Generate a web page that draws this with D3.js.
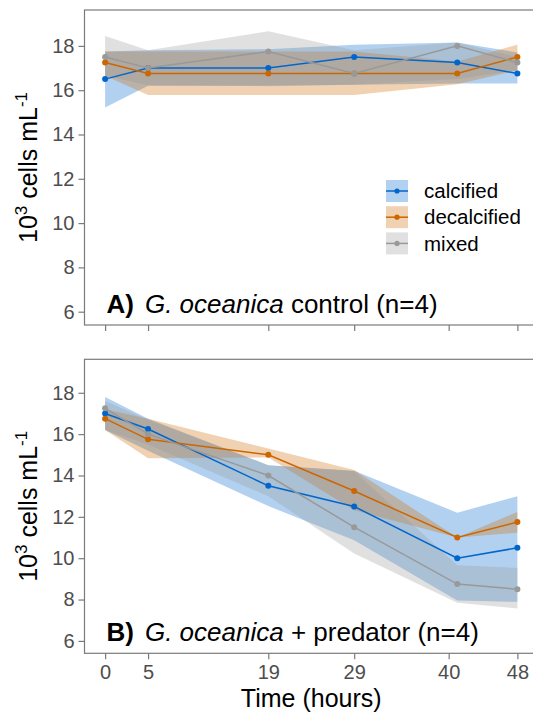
<!DOCTYPE html>
<html><head><meta charset="utf-8">
<script src="https://cdn.jsdelivr.net/npm/d3@7"></script>
<style>body{margin:0;background:#fff}svg{display:block}text{font-family:"Liberation Sans",Arial,sans-serif}</style>
</head><body><svg id="c" width="533" height="713"></svg>
<script>
const times = [0, 5, 19, 29, 41, 48];
const tickHours = [0, 5, 19, 29, 40, 48];
const yTicks = [6, 8, 10, 12, 14, 16, 18];
const seriesNames = ["calcified", "decalcified", "mixed"];
const seriesColors = ["#0066cc", "#cc6600", "#999999"];

// Panel A: control
const ctrlCalcMean  = [16.5, 17, 17, 17.5, 17.25, 16.75];
const ctrlCalcLow   = [15.22, 16.2, 16.2, 16.25, 16.3, 16.3];
const ctrlCalcHigh  = [17.75, 17.8, 17.85, 18.05, 18.15, 17.7];
const ctrlDecalMean = [17.25, 16.75, 16.75, 16.75, 16.75, 17.5];
const ctrlDecalLow  = [16.65, 15.78, 15.78, 15.78, 16.27, 16.9];
const ctrlDecalHigh = [17.75, 17.75, 17.75, 17.75, 17.3, 18.05];
const ctrlMixMean   = [17.5, 17, 17.75, 16.75, 18, 17.25];
const ctrlMixLow    = [16.65, 16.22, 16.18, 16.25, 16.5, 16.9];
const ctrlMixHigh   = [18.45, 17.8, 18.66, 17.8, 18.15, 17.5];

// Panel B: + predator
const predCalcMean  = [17, 16.25, 13.5, 12.5, 10, 10.5];
const predCalcLow   = [16.2, 15.2, 12.52, 10.87, 7.95, 7.89];
const predCalcHigh  = [17.8, 16.75, 14.5, 14.23, 12.2, 13.0];
const predDecalMean = [16.75, 15.75, 15, 13.25, 11, 11.75];
const predDecalLow  = [16.2, 14.83, 14.87, 12.32, 11.0, 11.23];
const predDecalHigh = [17.2, 16.75, 15.3, 14.26, 11.0, 12.24];
const predMixMean   = [17.25, 16, 14, 11.5, 8.75, 8.5];
const predMixLow    = [16.2, 15.5, 13.0, 10.23, 7.85, 7.57];
const predMixHigh   = [17.6, 16.7, 14.5, 14.2, 9.66, 9.53];

const svg = d3.select("#c");
const left = 84.5, right = 538;
const x = d3.scaleLinear().domain([-2.4, 50.4]).range([left, right]);

function build(mean, low, high){ return times.map((t,i)=>({t, m:mean[i], lo:low[i], hi:high[i]})); }

function panel(top, bottom, data, labelBold, labelItalic, labelRest, showXLabels){
  const y = d3.scaleLinear().domain([5.4, 19.62]).range([bottom, top]);
  const g = svg.append("g");
  data.forEach((s,k)=>{
    g.append("path").datum(s)
      .attr("fill", seriesColors[k]).attr("fill-opacity", 0.3)
      .attr("d", d3.area().x(d=>x(d.t)).y0(d=>y(d.lo)).y1(d=>y(d.hi)));
  });
  data.forEach((s,k)=>{
    g.append("path").datum(s).attr("fill","none").attr("stroke", seriesColors[k]).attr("stroke-width",1.5)
      .attr("d", d3.line().x(d=>x(d.t)).y(d=>y(d.m)));
    g.selectAll(null).data(s).enter().append("circle")
      .attr("cx", d=>x(d.t)).attr("cy", d=>y(d.m)).attr("r", 3).attr("fill", seriesColors[k]);
  });
  g.append("rect").attr("x", left).attr("y", top).attr("width", right-left).attr("height", bottom-top)
    .attr("fill","none").attr("stroke","#7a7a7a").attr("stroke-width",1.2);
  const ya = g.append("g").attr("transform", `translate(${left},0)`)
    .call(d3.axisLeft(y).tickValues(yTicks).tickSize(6).tickPadding(4).tickFormat(d3.format("d")));
  ya.select(".domain").remove();
  ya.selectAll(".tick line").attr("stroke","#7a7a7a").attr("stroke-width",1.2);
  ya.selectAll(".tick text").attr("fill","#4d4d4d").attr("font-size",20).attr("font-family","Liberation Sans, Arial, sans-serif");
  const xa = g.append("g").attr("transform", `translate(0,${bottom})`)
    .call(d3.axisBottom(x).tickValues(tickHours).tickSize(6).tickPadding(6).tickFormat(showXLabels ? d3.format("d") : ""));
  xa.select(".domain").remove();
  xa.selectAll(".tick line").attr("stroke","#7a7a7a").attr("stroke-width",1.2);
  xa.selectAll(".tick text").attr("fill","#4d4d4d").attr("font-size",20).attr("font-family","Liberation Sans, Arial, sans-serif");
  const yt = g.append("text").attr("transform", `translate(37,${(top+bottom)/2}) rotate(-90)`)
    .attr("text-anchor","middle").attr("font-size",25).attr("fill","#000");
  yt.append("tspan").text("10");
  yt.append("tspan").text("3").attr("font-size",17).attr("dy",-10);
  yt.append("tspan").text(" cells mL").attr("dy",10);
  yt.append("tspan").text("-1").attr("font-size",17).attr("dy",-10);
  const lab = g.append("text").attr("x",106.5).attr("y", bottom-12).attr("font-size",26).attr("fill","#000");
  lab.append("tspan").text(labelBold).attr("font-weight","bold");
  lab.append("tspan").text(labelItalic).attr("font-style","italic").attr("dx",11);
  lab.append("tspan").text(labelRest);
  return y;
}

const dataA = [build(ctrlCalcMean,ctrlCalcLow,ctrlCalcHigh), build(ctrlDecalMean,ctrlDecalLow,ctrlDecalHigh), build(ctrlMixMean,ctrlMixLow,ctrlMixHigh)];
const dataB = [build(predCalcMean,predCalcLow,predCalcHigh), build(predDecalMean,predDecalLow,predDecalHigh), build(predMixMean,predMixLow,predMixHigh)];

panel(10, 325, dataA, "A)", "G. oceanica", " control (n=4)", false);
panel(359.3, 653.3, dataB, "B)", "G. oceanica", " + predator (n=4)", true);

svg.append("text").attr("x", (left+right)/2).attr("y", 707).attr("text-anchor","middle")
  .attr("font-size",25).attr("fill","#000").text("Time (hours)");

const lg = svg.append("g");
seriesNames.forEach((n,k)=>{
  const y0 = 180 + k*26.2;
  lg.append("rect").attr("x",386).attr("y",y0).attr("width",22).attr("height",22)
    .attr("fill", seriesColors[k]).attr("fill-opacity",0.3);
  lg.append("line").attr("x1",386).attr("x2",408).attr("y1",y0+11).attr("y2",y0+11)
    .attr("stroke", seriesColors[k]).attr("stroke-width",1.5);
  lg.append("circle").attr("cx",397).attr("cy",y0+11).attr("r",2.6).attr("fill",seriesColors[k]);
  lg.append("text").attr("x",424).attr("y",y0+11).attr("dy","0.35em").attr("font-size",20.5).attr("fill","#000").text(n);
});
</script></body></html>
